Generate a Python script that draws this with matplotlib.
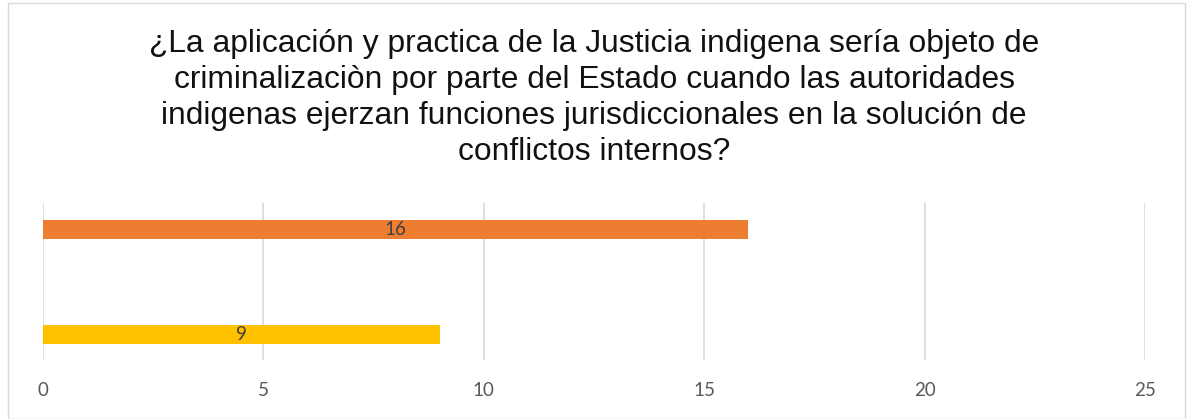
import matplotlib.pyplot as plt
from matplotlib.patches import Rectangle

title = ("¿La aplicación y practica de la Justicia indigena sería objeto de\n"
         "criminalizaciòn por parte del Estado cuando las autoridades\n"
         "indigenas ejerzan funciones jurisdiccionales en la solución de\n"
         "conflictos internos?")
categories = [0.5, 1.5]
values = [9, 16]
colors = ['#FFC000', '#ED7D31']
offsets = [-0.175, 0.162]
xticks = [0, 5, 10, 15, 20, 25]

fig = plt.figure(figsize=(11.88, 4.19), dpi=100)
ax = fig.add_axes([43 / 1188, 1 - 360 / 419, 1102 / 1188, 157 / 419])

for c, v, col, off in zip(categories, values, colors, offsets):
    ax.barh(c + off, v, height=0.242, color=col, zorder=3)
    ax.text(v / 2, c + off, str(v), ha='center', va='center',
            fontsize=13.5, color='#404040', family='Lato', zorder=4)

ax.set_xlim(0, 25)
ax.set_ylim(0, 2)
ax.set_xticks(xticks)
ax.set_yticks([])
ax.grid(axis='x', color='#D9D9D9', lw=1.2, zorder=0)
for s in ax.spines.values():
    s.set_visible(False)
ax.tick_params(axis='x', length=0, pad=16, labelsize=13.5, labelcolor='#595959')
for lbl in ax.get_xticklabels():
    lbl.set_family('Lato')

fig.text(0.5, 1 - 98 / 419, title, ha='center', va='center', fontsize=22.9,
         family='Liberation Sans', color='#111111', linespacing=1.27)

fig.patches.append(Rectangle((8 / 1188, 0), 1177 / 1188, 1 - 3 / 419,
                             transform=fig.transFigure, fill=False,
                             edgecolor='#D9D9D9', lw=1))

fig.savefig('out.png', dpi=100)
